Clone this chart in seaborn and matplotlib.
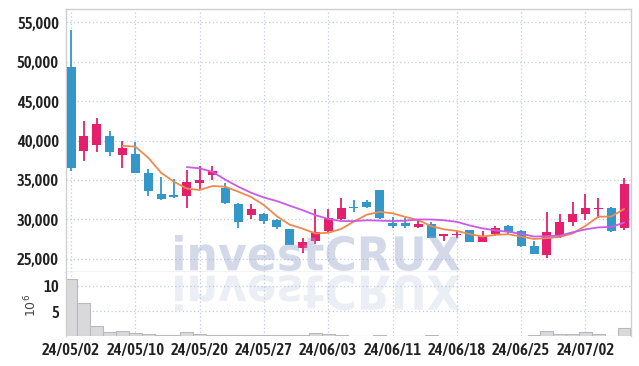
"""
Daily candlestick chart with 5/10-day moving averages and a volume panel,
investCRUX style. Saves out.png (639x366).
"""
import numpy as np
import matplotlib
matplotlib.use("Agg")
import matplotlib.pyplot as plt
import seaborn as sns
from matplotlib import font_manager
from matplotlib.textpath import TextPath
from matplotlib.patches import PathPatch
from matplotlib.font_manager import FontProperties
from matplotlib.transforms import Affine2D

# --- data ---
dates = ["24/05/02", "24/05/03", "24/05/07", "24/05/08", "24/05/09", "24/05/10",
         "24/05/13", "24/05/14", "24/05/16", "24/05/17", "24/05/20", "24/05/21",
         "24/05/22", "24/05/23", "24/05/24", "24/05/27", "24/05/28", "24/05/29",
         "24/05/30", "24/05/31", "24/06/03", "24/06/04", "24/06/05", "24/06/07",
         "24/06/10", "24/06/11", "24/06/12", "24/06/13", "24/06/14", "24/06/17",
         "24/06/18", "24/06/19", "24/06/20", "24/06/21", "24/06/24", "24/06/25",
         "24/06/26", "24/06/27", "24/06/28", "24/07/01", "24/07/02", "24/07/03",
         "24/07/04", "24/07/05"]
opens = [49340, 38700, 39480, 40550, 38210, 38270, 35920, 33200, 33050, 33010,
         34620, 35620, 34020, 31990, 30630, 30740, 29900, 28800, 26440, 27290,
         28550, 30100, 31620, 32170, 33690, 29560, 29560, 29050, 29480, 27880,
         28040, 28630, 27200, 28130, 29220, 28550, 26700, 25520, 28040, 29730,
         30740, 31330, 31500, 28890]
highs = [53940, 42500, 42800, 41150, 40000, 39850, 36380, 35400, 35160, 36300,
         36720, 36800, 34610, 32100, 32000, 30820, 30060, 28850, 27620, 31330,
         31330, 32700, 32420, 32500, 33750, 30320, 30230, 29900, 29650, 28150,
         28550, 28700, 28550, 29220, 29300, 28630, 27290, 30910, 30740, 32250,
         33270, 32760, 31580, 35280]
lows = [36090, 37370, 38500, 38020, 36480, 35880, 32930, 32480, 32760, 31410,
        33690, 34950, 32000, 28880, 30020, 29480, 28800, 26760, 25770, 26950,
        28300, 29950, 30950, 31500, 30060, 28970, 28880, 28970, 27620, 27290,
        27620, 27150, 27120, 27960, 28210, 26530, 25650, 25100, 27710, 29220,
        29980, 30230, 28380, 28720]
closes = [36470, 40550, 42070, 38570, 39000, 35930, 33560, 32530, 32900, 34700,
          34950, 36130, 32080, 29730, 31370, 29810, 29050, 26780, 27200, 28380,
          30150, 31500, 31450, 31580, 30150, 29220, 29220, 29480, 27710, 28130,
          28210, 27200, 27880, 28890, 28470, 26700, 25690, 28470, 29640, 30650,
          31500, 31500, 28550, 34440]
volume_m = [11.5, 6.6, 2.1, 0.9, 1.1, 0.6, 0.35, 0.3, 0.3, 0.9,
            0.4, 0.25, 0.2, 0.15, 0.15, 0.2, 0.15, 0.2, 0.2, 0.65,
            0.45, 0.3, 0.1, 0.1, 0.25, 0.1, 0.1, 0.05, 0.15, 0.05,
            0.05, 0.05, 0.05, 0.1, 0.05, 0.1, 0.15, 1.0, 0.35, 0.5,
            0.85, 0.35, 0.1, 1.6]
# moving averages as drawn (5-day from the 5th session, 10-day from the 10th)
ma5 = [39330, 39220, 37830, 35920, 34780, 33920, 33730, 34240, 34150, 33520,
       32850, 31820, 30410, 29350, 28840, 28240, 28310, 28800, 29740, 30610,
       30970, 30780, 30320, 29930, 29160, 28750, 28550, 28150, 27830, 28060,
       28130, 27830, 27530, 27640, 27790, 28230, 29190, 30350, 30370, 31330]
ma10 = [36630, 36480, 36030, 35040, 34150, 33390, 32780, 32330, 31750, 31180,
        30550, 30070, 29800, 29800, 29900, 29850, 29800, 29850, 30000, 30000,
        29900, 29700, 29240, 28880, 28610, 28440, 28190, 27840, 27880, 27960,
        28380, 28750, 29000, 29050, 29600]
tick_every = 5

UP, DOWN = "#e61f6c", "#3497c9"
GRID = "#c3cbe0"
FRAME = "#cfcfcf"

sns.set_style("white")
plt.rcParams["font.family"] = ["DejaVu Sans"]


def narrow_font(size):
    """Pick an installed condensed/narrow face for the tick labels."""
    best, score = None, None
    for f in font_manager.fontManager.ttflist:
        nm, st = f.name.lower(), str(f.stretch).lower()
        if not ("narrow" in nm or "condensed" in nm or "condensed" in st):
            continue
        if "italic" in str(f.style).lower() or "oblique" in str(f.style).lower():
            continue
        w = f.weight if isinstance(f.weight, (int, float)) else 400
        s = abs(w - 600)
        if score is None or s < score:
            best, score = f, s
    if best is not None:
        return FontProperties(fname=best.fname, size=size), True
    return FontProperties(family="Roboto", weight="bold", size=size - 2), False


W, H = 639, 366
fig = plt.figure(figsize=(W / 100, H / 100), dpi=100)
fig.patch.set_facecolor("white")
left, right = 66, 631
ax = fig.add_axes([left / W, (H - 272) / H, (right - left) / W, (272 - 9) / H])
axv = fig.add_axes([left / W, (H - 336) / H, (right - left) / W, (336 - 272) / H])

n = len(dates)
x = np.arange(n)
o, h, l, c = map(np.asarray, (opens, highs, lows, closes))
cols = np.where(c >= o, UP, DOWN)

# wicks then bodies
ax.vlines(x, l, h, colors=cols, linewidth=1.3, zorder=2)
body = np.maximum(np.abs(c - o), 120)
ax.bar(x, body, bottom=np.minimum(o, c), width=0.7, color=cols, zorder=3,
       edgecolor="none")

sns.lineplot(x=x[n - len(ma5):], y=ma5, ax=ax, color="#ef8a4e", linewidth=1.3,
             zorder=4)
sns.lineplot(x=x[n - len(ma10):], y=ma10, ax=ax, color="#c95be6", linewidth=1.3,
             zorder=4)

xlim = (-0.39, n - 1 + 0.54)
ax.set_xlim(*xlim)
ax.set_ylim(23350, 56650)
ax.set_yticks(range(25000, 55001, 5000))
ax.set_yticklabels([f"{v:,}" for v in range(25000, 55001, 5000)])
ax.set_xticks(x[::tick_every])
ax.set_xticklabels([])
ax.set_xlabel("")
ax.set_ylabel("")

# volume panel
sns.barplot(x=x, y=volume_m, ax=axv, color="#d9d9db", saturation=1,
            edgecolor="#b9b9bb", linewidth=0.8, width=1.0, errorbar=None,
            zorder=2)
axv.set_xlim(*xlim)
axv.set_ylim(0, 12.8)
axv.set_yticks([5, 10])
axv.set_yticklabels(["5", "10"])
axv.set_xticks(x[::tick_every])
axv.set_xticklabels(dates[::tick_every])
axv.set_xlabel("")
axv.set_ylabel(r"$10^6$", fontsize=9, color="#444444")
axv.yaxis.set_label_coords(-0.048, 0.48)

for a in (ax, axv):
    a.set_facecolor("white")
    a.grid(True, color=GRID, linestyle=(0, (1, 2)), linewidth=0.9)
    a.set_axisbelow(True)
    a.tick_params(length=0, colors="#222222", pad=5)
    for s in a.spines.values():
        s.set_color(FRAME)
        s.set_linewidth(1)
axv.spines["top"].set_visible(False)
axv.spines["bottom"].set_visible(False)
ax.spines["bottom"].set_color("#c6c6c6")
axv.tick_params(axis="x", pad=4)

fp_tick, is_narrow = narrow_font(12)
for t in ax.get_yticklabels() + axv.get_yticklabels() + axv.get_xticklabels():
    t.set_fontproperties(fp_tick)
    if is_narrow:
        t.set_fontweight("bold")

# watermark with its mirrored reflection
fp = FontProperties(family="DejaVu Sans", weight="bold")
tp = TextPath((0, 0), "investCRUX", size=1, prop=fp)
bb = tp.get_extents()
sx, sy = 285 / bb.width, 36 / bb.height
to_fig = Affine2D().scale(1 / W, 1 / H) + fig.transFigure
base = Affine2D().translate(-bb.x0, -bb.y0)
wm = base + Affine2D().scale(sx, sy).translate(175, H - 271)
wm_ref = base + Affine2D().scale(sx, -sy).translate(175, H - 275)
fig.add_artist(PathPatch(tp, transform=wm + to_fig, facecolor="#9aa6cc",
                         edgecolor="none", alpha=0.42, zorder=5))
fig.add_artist(PathPatch(tp, transform=wm_ref + to_fig, facecolor="#aab4d6",
                         edgecolor="none", alpha=0.22, zorder=5))

fig.savefig("out.png", dpi=100, facecolor="white")
